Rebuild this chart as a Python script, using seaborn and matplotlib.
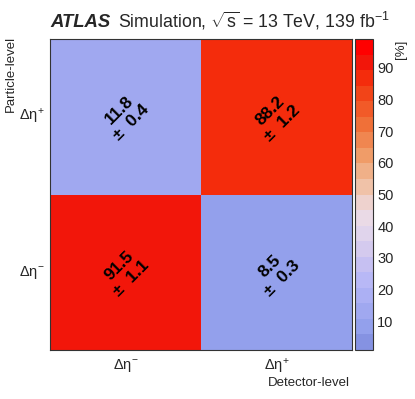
import numpy as np
import pandas as pd
import matplotlib
matplotlib.use("Agg")
import matplotlib.pyplot as plt
from matplotlib.colors import ListedColormap
import seaborn as sns

# migration matrix, rows = particle level (top to bottom), cols = detector level
particle_labels = ["Δη$^{+}$", "Δη$^{-}$"]
detector_labels = ["Δη$^{-}$", "Δη$^{+}$"]
values = [[11.8, 88.2],
          [91.5, 8.5]]
errors = [[0.4, 1.2],
          [1.1, 0.3]]
cbar_ticks = [10, 20, 30, 40, 50, 60, 70, 80, 90]

band_colors = [
    "#8592e2", "#93a0ec", "#a0a8f0", "#acb0f4", "#b8b8f6",
    "#c6c0f2", "#d4caee", "#e0d4ec", "#eadae6", "#eed2ce",
    "#f0c2a8", "#f0b088", "#f09c68", "#f08650", "#f07038",
    "#f25a28", "#f24418", "#f42c0c", "#f2160a", "#ff0000",
]
cmap = ListedColormap(band_colors)

sns.set_style("white")
plt.rcParams["font.family"] = ["Liberation Sans", "DejaVu Sans"]
plt.rcParams["mathtext.fontset"] = "custom"
plt.rcParams["mathtext.rm"] = "Liberation Sans"
plt.rcParams["mathtext.it"] = "Liberation Sans:italic"
plt.rcParams["mathtext.bf"] = "Liberation Sans:bold"

fig = plt.figure(figsize=(4.15, 3.99), dpi=100)
ax = fig.add_axes([50 / 415, 49 / 399, 302 / 415, 311 / 399])
cax = fig.add_axes([355 / 415, 49 / 399, 18 / 415, 311 / 399])

df = pd.DataFrame(values, index=particle_labels, columns=detector_labels)
sns.heatmap(df, ax=ax, cbar_ax=cax, cmap=cmap, vmin=1, vmax=99,
            cbar_kws={"ticks": cbar_ticks})

for i in range(len(particle_labels)):
    for j in range(len(detector_labels)):
        ax.text(j + 0.5, i + 0.5, f"{values[i][j]}\n±  {errors[i][j]}",
                rotation=45, rotation_mode="anchor", ha="center", va="center",
                multialignment="center", fontsize=12.5, fontweight="bold",
                linespacing=1.2, color="black")

for s in ax.spines.values():
    s.set_visible(True)
    s.set_linewidth(0.8)
    s.set_color("#333333")

ax.tick_params(length=0, labelsize=10.5)
ax.tick_params(axis="x", pad=5)
ax.tick_params(axis="y", pad=4)
ax.set_yticklabels(particle_labels, rotation=0)
ax.set_xticklabels(detector_labels, rotation=0)
ax.set_xlabel("")
ax.set_ylabel("")

cax.tick_params(direction="in", length=6, width=0.8, labelsize=10.5,
                right=True, labelright=True, pad=3, color="black")
cbar = ax.collections[0].colorbar
cbar.outline.set_linewidth(0.8)
cbar.outline.set_edgecolor("#333333")

fig.text(11 / 415, 1 - 36 / 399, "Particle-level", rotation=90,
         ha="center", va="top", fontsize=9.5)
fig.text(350 / 415, 1 - 383 / 399, "Detector-level",
         ha="right", va="center", fontsize=9.5)
fig.text(401 / 415, 1 - 40 / 399, "[%]", rotation=90,
         ha="center", va="top", fontsize=9.5)

fig.text(50 / 415, 1 - 27 / 399, "ATLAS", fontsize=13.3,
         fontweight="bold", fontstyle="italic", va="baseline")
fig.text(118 / 415, 1 - 27 / 399,
         r"Simulation, $\sqrt{\mathrm{s}}$ = 13 TeV, 139 fb$^{-1}$",
         fontsize=12.8, va="baseline")

fig.savefig("out.png", dpi=100)
